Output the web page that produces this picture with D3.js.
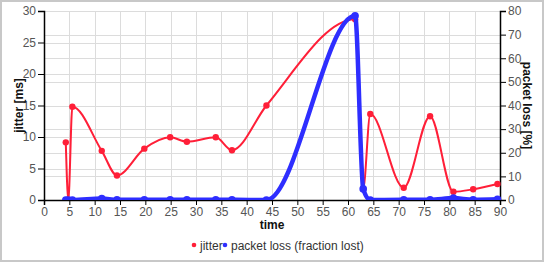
<!DOCTYPE html>
<html>
<head>
<meta charset="utf-8">
<script src="https://cdn.jsdelivr.net/npm/d3@7"></script>
<style>
  body { margin: 0; background: #fff; }
  svg { display: block; font-family: "Liberation Sans", Arial, sans-serif; }
</style>
</head>
<body>
<svg id="chart" width="545" height="265"></svg>
<script>
// data
const times       = [4.3, 4.8, 5.6, 11.4, 14.4, 19.8, 24.9, 28.2, 33.9, 37.1, 43.9, 61.4, 63.0, 64.4, 71.0, 76.2, 80.8, 84.7, 89.5];
const jitter      = [9.15, 0, 14.8, 7.8, 3.9, 8.15, 9.95, 9.25, 9.95, 7.9, 15.0, 28.7, 1.8, 13.65, 1.95, 13.3, 1.3, 1.7, 2.55];
const packetLoss  = [0, 0, 0, 0.6, 0.1, 0.1, 0.1, 0.1, 0.1, 0.1, 0, 78, 4.7, 0, 0.1, 0.1, 0.8, 0.1, 0.3];
const xTicks      = d3.range(0, 91, 5);
const leftTicks   = [0, 5, 10, 15, 20, 25, 30];
const rightTicks  = [0, 10, 20, 30, 40, 50, 60, 70, 80];
const legendItems = ['jitter', 'packet loss (fraction lost)'];

const RED = '#ff1f38';
const BLUE = '#2e2eff';

const svg = d3.select('#chart');
const m = { left: 44, right: 500, top: 11, bottom: 200 };

const x  = d3.scaleLinear().domain([0, 90]).range([m.left, m.right]);
const yL = d3.scaleLinear().domain([0, 30]).range([m.bottom, m.top]);
const yR = d3.scaleLinear().domain([0, 80]).range([m.bottom, m.top]);

// outer frame
svg.append('rect')
  .attr('x', 1).attr('y', 1).attr('width', 542).attr('height', 260)
  .attr('fill', 'none').attr('stroke', '#c8c8c8').attr('stroke-width', 2);

// grid (both y axes get their own lines)
const grid = svg.append('g').attr('stroke', '#dcdcdc').attr('stroke-width', 1);
grid.selectAll('.gx').data(xTicks.filter(d => d > 0)).join('line')
  .attr('x1', d => Math.round(x(d)) + 0.5).attr('x2', d => Math.round(x(d)) + 0.5)
  .attr('y1', m.top).attr('y2', m.bottom);
grid.selectAll('.gl').data(leftTicks.filter(d => d > 0)).join('line')
  .attr('x1', m.left).attr('x2', m.right)
  .attr('y1', d => Math.round(yL(d)) + 0.5).attr('y2', d => Math.round(yL(d)) + 0.5);
grid.selectAll('.gr').data(rightTicks.filter(d => d > 0 && d < 80)).join('line')
  .attr('x1', m.left).attr('x2', m.right)
  .attr('y1', d => Math.round(yR(d)) + 0.5).attr('y2', d => Math.round(yR(d)) + 0.5);

// axes
const styleAxis = g => {
  g.select('.domain').attr('stroke', '#000').attr('stroke-width', 1.5);
  g.selectAll('.tick line').attr('stroke', '#000');
  g.selectAll('.tick text').attr('fill', '#555').attr('font-size', 12)
    .attr('font-family', '"Liberation Sans", Arial, sans-serif');
};

svg.append('g').attr('transform', `translate(0,${m.bottom})`)
  .call(d3.axisBottom(x).tickValues(xTicks).tickSizeOuter(0).tickSize(5).tickPadding(2))
  .call(styleAxis);
svg.append('g').attr('transform', `translate(${m.left},0)`)
  .call(d3.axisLeft(yL).tickValues(leftTicks).tickSizeOuter(0).tickSize(6).tickPadding(2))
  .call(styleAxis);
svg.append('g').attr('transform', `translate(${m.right},0)`)
  .call(d3.axisRight(yR).tickValues(rightTicks).tickSizeOuter(0).tickSize(6).tickPadding(2))
  .call(styleAxis);

// axis titles
svg.append('text').attr('x', 272).attr('y', 229).attr('text-anchor', 'middle')
  .attr('font-size', 12).attr('font-weight', 'bold').attr('fill', '#111').text('time');
svg.append('text').attr('transform', `translate(23,${(m.top + m.bottom) / 2}) rotate(-90)`)
  .attr('text-anchor', 'middle').attr('font-size', 12).attr('font-weight', 'bold')
  .attr('fill', '#111').text('jitter [ms]');
svg.append('text').attr('transform', `translate(523,${(m.top + m.bottom) / 2}) rotate(90)`)
  .attr('text-anchor', 'middle').attr('font-size', 12).attr('font-weight', 'bold')
  .attr('fill', '#111').text('packet loss [%]');

// series, clipped to plot area
svg.append('clipPath').attr('id', 'plot')
  .append('rect').attr('x', m.left).attr('y', 0)
  .attr('width', m.right - m.left + 8).attr('height', m.bottom);

const plot = svg.append('g').attr('clip-path', 'url(#plot)');

const jitterPts = times.map((t, i) => [t, jitter[i]]);
const lossPts = times.map((t, i) => [t, packetLoss[i]]);

const lineL = d3.line().x(d => x(d[0])).y(d => yL(d[1])).curve(d3.curveMonotoneX);
const lineR = d3.line().x(d => x(d[0])).y(d => yR(d[1])).curve(d3.curveMonotoneX);

plot.append('path').datum(jitterPts).attr('d', lineL)
  .attr('fill', 'none').attr('stroke', RED).attr('stroke-width', 2);
plot.selectAll('.jd').data(jitterPts).join('circle')
  .attr('cx', d => x(d[0])).attr('cy', d => yL(d[1])).attr('r', 3.2).attr('fill', RED);

plot.append('path').datum(lossPts).attr('d', lineR)
  .attr('fill', 'none').attr('stroke', BLUE).attr('stroke-width', 4.5);
plot.selectAll('.ld').data(lossPts).join('circle')
  .attr('cx', d => x(d[0])).attr('cy', d => yR(d[1])).attr('r', 3.8).attr('fill', BLUE);

// legend
const legend = svg.append('g').attr('font-size', 12).attr('fill', '#333');
legend.append('circle').attr('cx', 194).attr('cy', 245).attr('r', 2.3).attr('fill', RED);
legend.append('text').attr('x', 200).attr('y', 249.5).attr('fill', '#333').text(legendItems[0]);
legend.append('circle').attr('cx', 225).attr('cy', 245).attr('r', 2.3).attr('fill', BLUE);
legend.append('text').attr('x', 231).attr('y', 249.5).attr('fill', '#333').text(legendItems[1]);
</script>
</body>
</html>
